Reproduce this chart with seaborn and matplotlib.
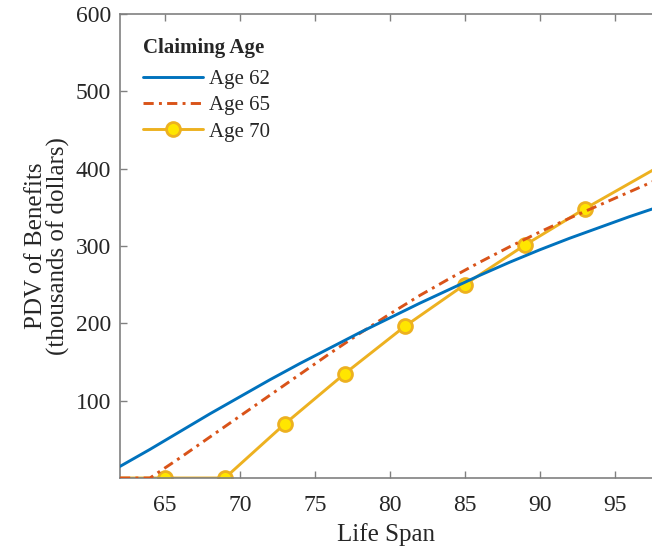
import matplotlib
matplotlib.use("Agg")
import matplotlib.pyplot as plt
import seaborn as sns
import pandas as pd

# ---- data ----
ages_62 = [62, 64, 66, 68, 70, 72, 74, 76, 78, 80, 82, 84, 86, 88, 90, 92, 94, 96, 98]
pdv_62 = [15, 37, 60, 83, 105, 127, 148, 168, 188, 207, 226, 244, 262, 279, 295, 310, 324, 338, 351]

ages_65 = [62, 64, 65, 66, 68, 70, 72, 74, 76, 78, 80, 82, 84, 86, 88, 90, 92, 94, 96, 98]
pdv_65 = [0, 0, 13, 26, 53, 80, 107, 134, 161, 187, 212, 236, 258, 279, 299, 318, 336, 353, 370, 387]

ages_70 = [62, 65, 69, 73, 77, 81, 85, 89, 93, 98]
pdv_70 = [0, 0, 0, 70, 135, 196, 250, 301, 348, 403]

series_labels = ["Age 62", "Age 65", "Age 70"]
legend_title = "Claiming Age"
x_ticks = [65, 70, 75, 80, 85, 90, 95]
y_ticks = [100, 200, 300, 400, 500, 600]

df62 = pd.DataFrame({"age": ages_62, "pdv": pdv_62})
df65 = pd.DataFrame({"age": ages_65, "pdv": pdv_65})
df70 = pd.DataFrame({"age": ages_70, "pdv": pdv_70})

sns.set_style("ticks")
plt.rcParams["font.family"] = ["Liberation Serif", "DejaVu Serif"]
plt.rcParams["mathtext.fontset"] = "stix"

fig = plt.figure(figsize=(6.52, 5.48), dpi=100)
ax = fig.add_axes([120 / 652, 70 / 548, 532 / 652, 464 / 548])

c_blue = "#0072BD"
c_orange = "#D95319"
c_yellow = "#EDB120"

sns.lineplot(data=df70, x="age", y="pdv", ax=ax, color=c_yellow, lw=2.1,
             marker="o", markersize=10, markerfacecolor="#FFE600",
             markeredgecolor=c_yellow, markeredgewidth=2.0,
             markevery=list(range(1, len(ages_70) - 1)), label=series_labels[2],
             zorder=2)
sns.lineplot(data=df65, x="age", y="pdv", ax=ax, color=c_orange, lw=2.1,
             linestyle=(0, (3.5, 1.8, 1.0, 1.8)), label=series_labels[1], zorder=3)
sns.lineplot(data=df62, x="age", y="pdv", ax=ax, color=c_blue, lw=2.1,
             label=series_labels[0], zorder=4)

ax.set_xlim(62, 97.5)
ax.set_ylim(0, 600)
ax.set_xticks(x_ticks)
ax.set_yticks(y_ticks)

text_col = "#262626"
spine_col = "#808080"
ax.tick_params(direction="in", length=5, width=1, colors=spine_col,
               labelsize=17, labelcolor=text_col, top=True, right=False)
ax.tick_params(axis="x", pad=12)
ax.tick_params(axis="y", pad=6.5)
for s in ["left", "bottom", "top"]:
    ax.spines[s].set_color(spine_col)
    ax.spines[s].set_linewidth(1.2)
ax.spines["right"].set_visible(False)

ax.set_xlabel("Life Span", fontsize=18, color=text_col, labelpad=5)
ax.set_ylabel("PDV of Benefits\n(thousands of dollars)", fontsize=18,
              color=text_col, labelpad=4, linespacing=1.0)

handles, labels = ax.get_legend_handles_labels()
order = [labels.index(l) for l in series_labels]
leg = ax.legend([handles[i] for i in order], [labels[i] for i in order],
                title=legend_title, loc="upper left",
                bbox_to_anchor=(0.019, 0.975), frameon=False, fontsize=15,
                handlelength=2.9, handletextpad=0.3, labelspacing=0.33,
                borderaxespad=0.2)
leg.get_title().set_fontweight("bold")
leg.get_title().set_fontsize(15)
leg._legend_box.align = "left"
leg._legend_box.sep = 8.0

fig.savefig("out.png", dpi=100)
